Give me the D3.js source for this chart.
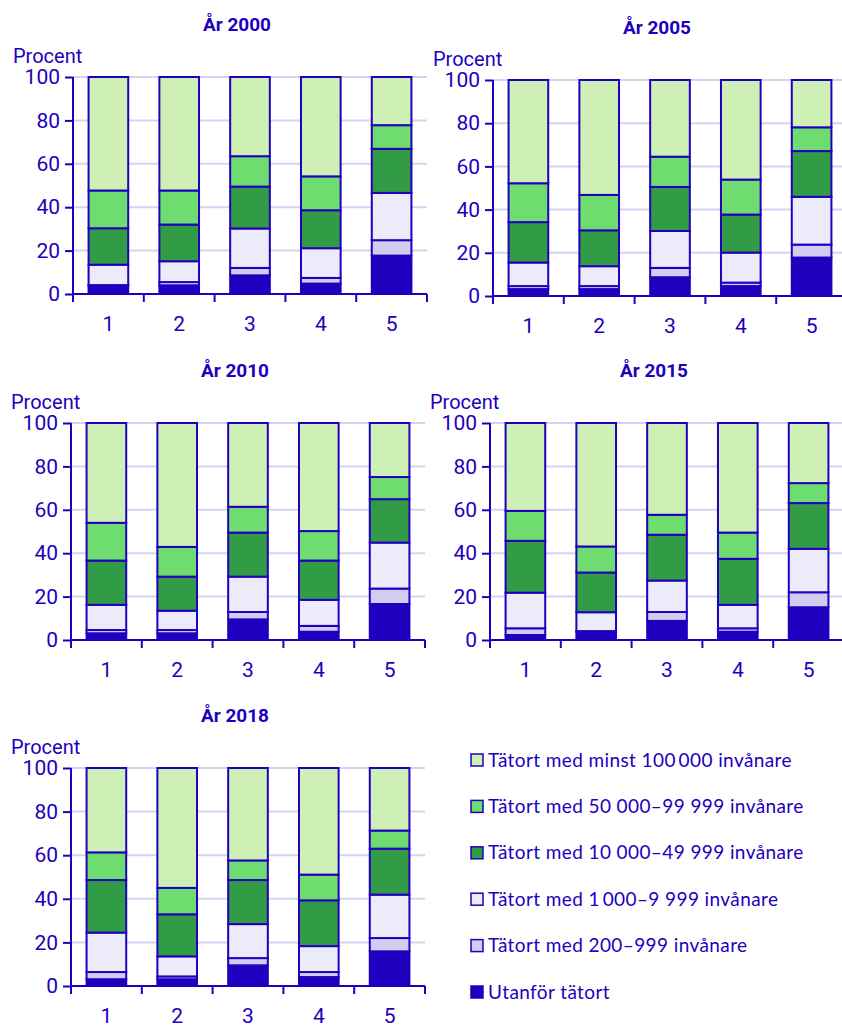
<!DOCTYPE html>
<html><head><meta charset="utf-8">
<script src="https://cdn.jsdelivr.net/npm/d3@7"></script>
<style>
html,body{margin:0;padding:0;background:#fff;}
svg{display:block;}
</style></head>
<body>
<svg id="chart" width="842" height="1025"></svg>
<script>
// ---- data ----
const categories = ["1", "2", "3", "4", "5"];
const seriesNames = [
  "Utanför tätort",
  "Tätort med 200–999 invånare",
  "Tätort med 1 000–9 999 invånare",
  "Tätort med 10 000–49 999 invånare",
  "Tätort med 50 000–99 999 invånare",
  "Tätort med minst 100 000 invånare"
];
const legendLabels = [
  "Tätort med minst 100\u2009000 invånare",
  "Tätort med 50 000–99 999 invånare",
  "Tätort med 10 000–49 999 invånare",
  "Tätort med 1\u2009000–9 999 invånare",
  "Tätort med 200–999 invånare",
  "Utanför tätort"
];
const years = ["År 2000", "År 2005", "År 2010", "År 2015", "År 2018"];
const yTicks = [0, 20, 40, 60, 80, 100];
// values per year: rows = categories, columns = series (bottom to top)
const values2000 = [
  [3.8, 0.3, 9.4, 16.8, 17.4, 52.3],
  [4.0, 1.5, 9.6, 16.9, 15.7, 52.3],
  [8.6, 3.4, 18.2, 19.3, 14.0, 36.5],
  [4.8, 2.6, 13.7, 17.5, 15.6, 45.8],
  [17.7, 7.1, 21.8, 20.3, 10.9, 22.2]
];
const values2005 = [
  [3.2, 1.4, 10.9, 18.7, 18.0, 47.8],
  [3.2, 1.4, 9.2, 16.6, 16.4, 53.2],
  [8.7, 4.3, 17.1, 20.4, 14.0, 35.5],
  [4.6, 1.6, 13.9, 17.6, 16.2, 46.1],
  [17.8, 6.0, 22.1, 21.2, 11.0, 21.9]
];
const values2010 = [
  [3.1, 1.5, 11.6, 20.4, 17.4, 46.0],
  [3.1, 1.5, 8.9, 15.7, 13.7, 57.1],
  [9.5, 3.4, 16.3, 20.3, 11.9, 38.6],
  [3.8, 2.7, 12.0, 18.1, 13.6, 49.8],
  [16.6, 7.1, 21.2, 20.0, 10.2, 24.9]
];
const values2015 = [
  [2.3, 3.1, 16.4, 23.9, 13.8, 40.5],
  [3.8, 0.3, 8.7, 18.3, 12.0, 56.9],
  [8.8, 4.1, 14.5, 21.1, 9.2, 42.3],
  [3.8, 1.6, 10.8, 21.2, 12.1, 50.5],
  [15.1, 6.9, 20.0, 21.1, 9.2, 27.7]
];
const values2018 = [
  [3.1, 3.3, 18.1, 24.1, 12.7, 38.7],
  [3.1, 1.3, 9.2, 19.3, 12.1, 55.0],
  [9.5, 3.3, 15.6, 20.2, 9.0, 42.4],
  [4.1, 2.3, 11.9, 21.0, 11.8, 48.9],
  [15.9, 6.1, 19.9, 21.1, 8.3, 28.7]
];
const allValues = [values2000, values2005, values2010, values2015, values2018];

// ---- styles ----
const BLUE = "#1E00BE";
const colors = ["#1E00BE", "#D2CDF0", "#EBEBFA", "#329B46", "#6EDC6E", "#CFF0B4"];
const legendColors = colors.slice().reverse();
const FONT = "Roboto, 'Noto Sans', sans-serif";

// panel layout
const panels = [
  {x: 73, top: 77, bottom: 294},
  {x: 493, top: 80, bottom: 296},
  {x: 71, top: 423, bottom: 640},
  {x: 490, top: 423, bottom: 640},
  {x: 71, top: 768, bottom: 986}
];
const plotW = 354;

const svg = d3.select("#chart");

panels.forEach((p, pi) => {
  const g = svg.append("g");
  const x = d3.scaleBand().domain(categories).range([p.x, p.x + plotW]).paddingInner(0.44).paddingOuter(0.22);
  const y = d3.scaleLinear().domain([0, 100]).range([p.bottom, p.top]);

  // gridlines
  g.append("g").selectAll("line").data(yTicks.filter(d => d > 0)).join("line")
    .attr("x1", p.x).attr("x2", p.x + plotW)
    .attr("y1", d => y(d)).attr("y2", d => y(d))
    .attr("stroke", "#D4D4F2").attr("stroke-width", 2);

  // stacked bars
  const rows = allValues[pi].map((r, i) => {
    const o = {cat: categories[i]};
    seriesNames.forEach((s, j) => o[s] = r[j]);
    return o;
  });
  const stacked = d3.stack().keys(seriesNames)(rows);
  stacked.forEach((layer, li) => {
    g.append("g").selectAll("rect").data(layer).join("rect")
      .attr("x", d => x(d.data.cat))
      .attr("width", x.bandwidth())
      .attr("y", d => y(d[1]))
      .attr("height", d => Math.max(0, y(d[0]) - y(d[1])))
      .attr("fill", colors[li])
      .attr("stroke", BLUE).attr("stroke-width", 2);
  });

  // y axis
  const ya = g.append("g").attr("transform", `translate(${p.x},0)`)
    .call(d3.axisLeft(y).tickValues(yTicks).tickSize(8).tickPadding(5));
  ya.select(".domain").attr("stroke", BLUE).attr("stroke-width", 2).attr("d", `M0,${p.bottom}V${p.top}`);
  ya.selectAll(".tick line").attr("stroke", BLUE).attr("stroke-width", 2);
  ya.selectAll(".tick text").attr("fill", BLUE).style("font-family", FONT).style("font-size", "21px");

  // x axis
  const xa = g.append("g").attr("transform", `translate(0,${p.bottom})`)
    .call(d3.axisBottom(x).tickSize(0).tickPadding(22));
  xa.select(".domain").attr("stroke", BLUE).attr("stroke-width", 2).attr("d", `M${p.x},0H${p.x + plotW}`);
  xa.selectAll(".tick text").attr("fill", BLUE).style("font-family", FONT).style("font-size", "21px");
  // boundary ticks
  const bounds = d3.range(categories.length + 1).map(i => p.x + i * x.step());
  xa.append("g").selectAll("line").data(bounds).join("line")
    .attr("x1", d => d).attr("x2", d => d).attr("y1", 0).attr("y2", 8)
    .attr("stroke", BLUE).attr("stroke-width", 2);

  // title
  g.append("text").attr("x", p.x + 164).attr("y", p.top - 46)
    .attr("text-anchor", "middle").attr("fill", BLUE)
    .style("font-family", FONT).style("font-weight", "bold").style("font-size", "19px")
    .text(years[pi]);
  // unit label
  g.append("text").attr("x", p.x - 60).attr("y", p.top - 14)
    .attr("fill", BLUE).style("font-family", FONT).style("font-size", "20px")
    .text("Procent");
});

// legend
const lg = svg.append("g");
const ly = d3.scalePoint().domain(legendLabels).range([760, 992]);
legendLabels.forEach((lab, i) => {
  const cy = ly(lab);
  lg.append("rect").attr("x", 471).attr("y", cy - 6).attr("width", 12).attr("height", 12)
    .attr("fill", legendColors[i]).attr("stroke", BLUE).attr("stroke-width", 1.5);
  lg.append("text").attr("x", 488).attr("y", cy).attr("dy", "0.35em")
    .attr("fill", BLUE).style("font-family", "Lato, 'Open Sans', sans-serif").style("font-size", "19px")
    .style("letter-spacing", "0.4px")
    .text(lab);
});
</script>
</body></html>
